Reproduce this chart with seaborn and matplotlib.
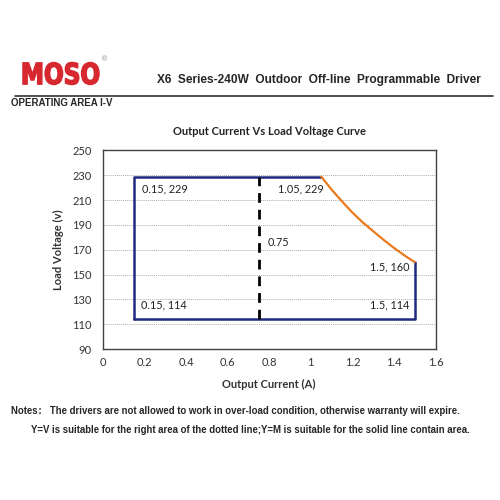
import matplotlib
matplotlib.use("Agg")
import matplotlib.pyplot as plt
import seaborn as sns
import pandas as pd
from matplotlib.textpath import TextPath
from matplotlib.patches import PathPatch
from matplotlib.font_manager import FontProperties
from matplotlib.transforms import Affine2D

# data
box_current = [0.15, 0.15, 1.05]
box_voltage = [114, 229, 229]
box2_current = [1.5, 1.5, 0.15]
box2_voltage = [160, 114, 114]
curve_current = [1.05, 1.10, 1.15, 1.20, 1.25, 1.30, 1.35, 1.40, 1.45, 1.50]
curve_voltage = [229, 218.5, 209, 200, 192, 185, 178, 171.5, 165.5, 160]
divider_current = [0.75, 0.75]
divider_voltage = [114, 229]
xticks = [0, 0.2, 0.4, 0.6, 0.8, 1.0, 1.2, 1.4, 1.6]
xtick_labels = ["0", "0.2", "0.4", "0.6", "0.8", "1", "1.2", "1.4", "1.6"]
yticks = [90, 110, 130, 150, 170, 190, 210, 230, 250]
point_labels = ["0.15, 229", "1.05, 229", "0.75", "1.5, 160", "0.15, 114", "1.5, 114"]

sns.set_style("white")
plt.rcParams['font.family'] = ['Lato', 'DejaVu Sans']

fig = plt.figure(figsize=(5, 5), dpi=100)
ax = fig.add_axes([0.206, 0.302, 0.665, 0.397])

navy = "#1f2a80"
orange = "#ea7a1e"

df1 = pd.DataFrame({"I": box_current, "V": box_voltage})
df2 = pd.DataFrame({"I": box2_current, "V": box2_voltage})
dfc = pd.DataFrame({"I": curve_current, "V": curve_voltage})
dfd = pd.DataFrame({"I": divider_current, "V": divider_voltage})

sns.lineplot(data=df1, x="I", y="V", sort=False, color=navy, lw=1.8, ax=ax, estimator=None)
sns.lineplot(data=df2, x="I", y="V", sort=False, color=navy, lw=1.8, ax=ax, estimator=None)
sns.lineplot(data=dfc, x="I", y="V", sort=False, color=orange, lw=1.6, ax=ax, estimator=None)
ax.plot(dfd["I"], dfd["V"], color="black", lw=2.0, linestyle=(0, (3.5, 2.5)))

ax.set_xlim(0, 1.6)
ax.set_ylim(90, 250)
ax.set_xticks(xticks)
ax.set_xticklabels(xtick_labels)
ax.set_yticks(yticks)
ax.yaxis.grid(True, color="#b0b0b0", linestyle=(0, (1, 1)), lw=0.7)
ax.set_axisbelow(True)
for s in ax.spines.values():
    s.set_color("#404040")
    s.set_linewidth(1.0)
ax.tick_params(axis="x", direction="in", length=4, color="#404040", labelsize=8, pad=6, labelcolor="#333333")
ax.tick_params(axis="y", length=0, labelsize=8, pad=8, labelcolor="#333333")
ax.set_xlabel("Output Current (A)", fontsize=8, fontweight="bold", labelpad=8, color="#333333")
ax.set_ylabel("Load Voltage (v)", fontsize=8, fontweight="bold", labelpad=6, color="#333333")
ax.set_title("Output Current Vs Load Voltage Curve", fontsize=8, fontweight="bold", pad=11, color="#222222")

fs = 7.8
ax.text(0.19, 219, point_labels[0], fontsize=fs, ha="left", va="center", color="#222222")
ax.text(0.84, 219, point_labels[1], fontsize=fs, ha="left", va="center", color="#222222")
ax.text(0.79, 176, point_labels[2], fontsize=fs, ha="left", va="center", color="#222222")
ax.text(1.476, 156, point_labels[3], fontsize=fs, ha="right", va="center", color="#222222")
ax.text(0.185, 125.5, point_labels[4], fontsize=fs, ha="left", va="center", color="#222222")
ax.text(1.476, 125.5, point_labels[5], fontsize=fs, ha="right", va="center", color="#222222")

# header logo (condensed heavy red letters)
tp = TextPath((0, 0), "MOSO", size=10, prop=FontProperties(family="DejaVu Sans", weight="bold"))
ext = tp.get_extents()
W, H = 500.0, 500.0
x0, x1 = 23 / W, 99 / W
y0, y1 = 1 - 84.5 / H, 1 - 62.5 / H
tr = Affine2D().translate(-ext.x0, -ext.y0).scale((x1 - x0) / ext.width, (y1 - y0) / ext.height).translate(x0, y0)
logo = PathPatch(tr.transform_path(tp), facecolor="#d7282f", edgecolor="#d7282f", lw=1.1,
                 joinstyle="miter", transform=fig.transFigure)
fig.add_artist(logo)

arial = ['Liberation Sans', 'DejaVu Sans']
fig.text(0.204, 0.880, "®", fontsize=5, color="#888888", ha="left", va="center", family=arial)
fig.text(0.962, 0.840, "X6  Series-240W  Outdoor  Off-line  Programmable  Driver",
         fontsize=8.6, fontweight="bold", ha="right", va="center", family=arial)
fig.add_artist(plt.Line2D([0.03, 0.986], [0.809, 0.809], color="#333333", lw=1.2,
                          transform=fig.transFigure))
fig.text(0.022, 0.794, "OPERATING AREA I-V", fontsize=7, fontweight="bold",
         ha="left", va="center", family=arial)
fig.text(0.022, 0.178, "Notes\uff1a The drivers are not allowed to work in over-load condition, otherwise warranty will expire.",
         fontsize=6.9, fontweight="bold", ha="left", va="center", family=['Liberation Sans', 'Noto Sans CJK SC', 'DejaVu Sans'])
fig.text(0.062, 0.140, "Y=V is suitable for the right area of the dotted line;Y=M is suitable for the solid line contain area.",
         fontsize=6.9, fontweight="bold", ha="left", va="center", family=arial)

fig.savefig("out.png", dpi=100)
